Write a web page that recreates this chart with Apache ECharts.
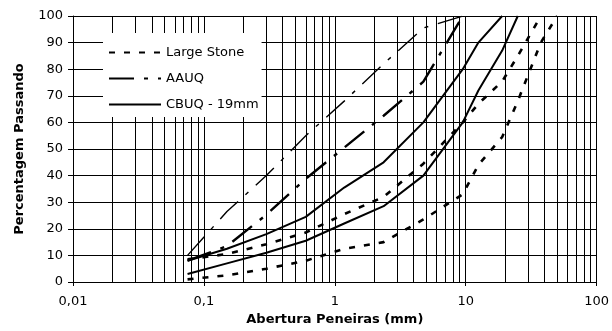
<!DOCTYPE html>
<html>
<head>
<meta charset="utf-8">
<style>
  html, body { margin: 0; padding: 0; background: #fff; }
  #chart { width: 612px; height: 331px; }
</style>
<script src="https://cdn.jsdelivr.net/npm/echarts@6/dist/echarts.min.js"></script>
</head>
<body>
<div id="chart"></div>
<script>
// Sieve openings (mm) and percent passing for each grading band limit
const sieves = [0.075, 0.15, 0.3, 0.6, 1.18, 2.36, 4.75, 9.5, 12.5, 19, 25, 37.5, 50];

const largeStoneLower = [1, 2.5, 5, 8, 12.5, 15, 23.5, 33, 44, 54.5, 68, 90, 100];
const largeStoneUpper = [8.5, 10.5, 14.2, 18.6, 25.5, 32, 44.5, 60, 67, 75.4, 85, 100];
const aauqLower = [8, 13.5, 25.3, 38.8, 50.5, 62.5, 75.3, 100];
const aauqUpper = [10, 26.5, 40, 55, 68, 82, 95.5, 100];
const cbuqLower = [3, 7, 11, 15.5, 22, 28.5, 40, 60, 72, 87, 100];
const cbuqUpper = [8, 12.5, 18, 24.5, 35.5, 45, 60, 80, 90, 100];

const seriesNames = ['Large Stone', 'AAUQ', 'CBUQ - 19mm'];
const xTickLabels = ['0,01', '0,1', '1', '10', '100'];
const yTicks = [0, 100, 10];

// Log-scale gridlines between the decades (2..9 within each decade)
const decades = [0.01, 0.1, 1, 10];
const mantissas = [2, 3, 4, 5, 6, 7, 8, 9];
const minorGridX = [];
decades.forEach(d => mantissas.forEach(m => minorGridX.push(+(d * m).toPrecision(3))));

const pairs = vals => vals.map((v, i) => [sieves[i], v]);

const FONT = 'DejaVu Sans';
const dashLS = [6, 9];
const dashAAUQ = [25, 10, 4, 10];

function line(name, vals, width, dash) {
  return {
    name: name,
    type: 'line',
    data: pairs(vals),
    symbol: 'none',
    smooth: false,
    silent: true,
    lineStyle: { color: '#000', width: width, type: dash || 'solid', cap: 'butt' },
    itemStyle: { color: '#000' },
    z: 3
  };
}

const series = [
  line(seriesNames[0], largeStoneLower, 2.6, dashLS),
  line(seriesNames[0], largeStoneUpper, 2.6, dashLS),
  line(seriesNames[1], aauqLower, 2.4, dashAAUQ),
  line(seriesNames[1], aauqUpper, 1.4, dashAAUQ),
  line(seriesNames[2], cbuqLower, 2, 'solid'),
  line(seriesNames[2], cbuqUpper, 2, 'solid')
];

// Minor vertical gridlines drawn through the x axis scale
series[0].markLine = {
  silent: true,
  symbol: ['none', 'none'],
  label: { show: false },
  animation: false,
  lineStyle: { color: '#000', width: 1, type: 'solid' },
  emphasis: { disabled: true },
  data: minorGridX.map(v => ({ xAxis: v }))
};

const chart = echarts.init(document.getElementById('chart'), null, { renderer: 'canvas' });
chart.setOption({
  animation: false,
  backgroundColor: '#fff',
  textStyle: { fontFamily: FONT, color: '#000' },
  grid: { left: 73, right: 14, top: 16, bottom: 47, containLabel: false },
  legend: {
    data: seriesNames,
    orient: 'vertical',
    left: 103,
    top: 33,
    padding: [12.5, 3, 5.5, 5],
    backgroundColor: '#fff',
    itemWidth: 52,
    itemHeight: 14,
    itemGap: 12,
    itemStyle: { opacity: 0 },
    selectedMode: false,
    textStyle: { fontFamily: FONT, fontSize: 13, color: '#000', lineHeight: 14 },
    z: 10
  },
  xAxis: {
    type: 'log',
    logBase: 10,
    min: 0.01,
    max: 100,
    name: 'Abertura Peneiras (mm)',
    nameLocation: 'middle',
    nameGap: 31,
    nameTextStyle: { fontFamily: FONT, fontSize: 13, fontWeight: 'bold', color: '#000' },
    axisLine: { show: true, onZero: false, lineStyle: { color: '#000', width: 1 } },
    axisTick: { show: true, inside: false, length: 4, lineStyle: { color: '#000' } },
    axisLabel: {
      fontFamily: FONT, fontSize: 13, color: '#000', margin: 13,
      formatter: (v, i) => xTickLabels[i] !== undefined ? xTickLabels[i] : ''
    },
    splitLine: { show: true, lineStyle: { color: '#000', width: 1 } },
    minorTick: { show: false },
    minorSplitLine: { show: false }
  },
  yAxis: {
    type: 'value',
    min: yTicks[0],
    max: yTicks[1],
    interval: yTicks[2],
    name: 'Percentagem Passando',
    nameLocation: 'middle',
    nameGap: 47,
    nameRotate: 90,
    nameTextStyle: { fontFamily: FONT, fontSize: 13, fontWeight: 'bold', color: '#000' },
    axisLine: { show: true, lineStyle: { color: '#000', width: 1 } },
    axisTick: { show: true, inside: false, length: 5, lineStyle: { color: '#000' } },
    axisLabel: { fontFamily: FONT, fontSize: 13, color: '#000', margin: 10 },
    splitLine: { show: true, lineStyle: { color: '#000', width: 1 } }
  },
  series: series
});
</script>
</body>
</html>
